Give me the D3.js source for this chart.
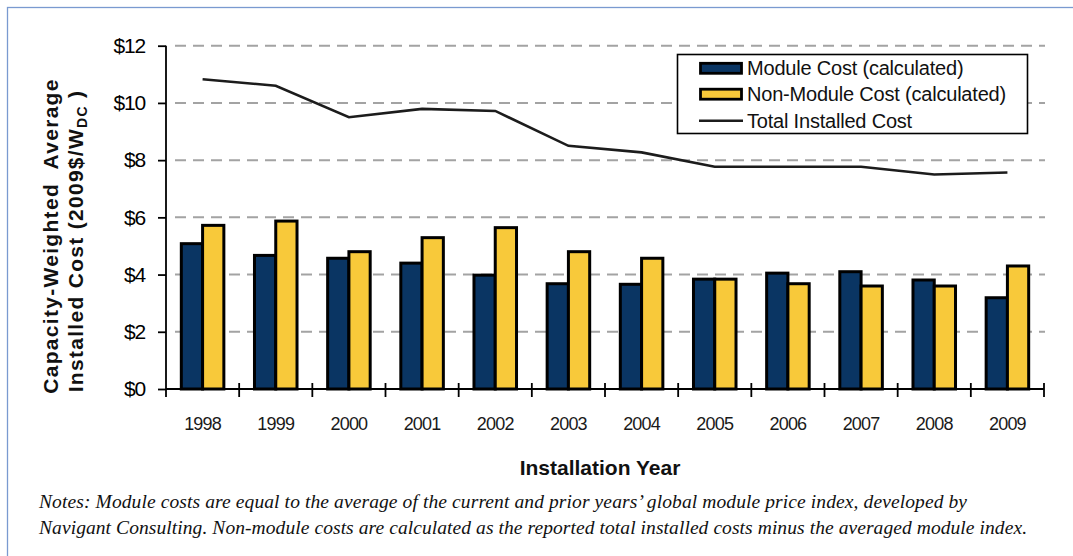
<!DOCTYPE html>
<html>
<head>
<meta charset="utf-8">
<script src="https://cdn.jsdelivr.net/npm/d3@7"></script>
<style>
  body { margin: 0; background: #fff; }
  svg { display: block; }
</style>
</head>
<body>
<svg id="chart" width="1073" height="556"></svg>
<script>
// data
var years = ["1998","1999","2000","2001","2002","2003","2004","2005","2006","2007","2008","2009"];
var moduleCost = [5.08, 4.67, 4.57, 4.4, 3.98, 3.68, 3.66, 3.84, 4.05, 4.1, 3.81, 3.19];
var nonModuleCost = [5.72, 5.87, 4.8, 5.29, 5.64, 4.8, 4.57, 3.84, 3.68, 3.6, 3.6, 4.3];
var totalCost = [10.83, 10.6, 9.5, 9.79, 9.72, 8.5, 8.27, 7.77, 7.77, 7.77, 7.5, 7.57];
var yTicks = [0, 2, 4, 6, 8, 10, 12];
var seriesNames = ["Module Cost (calculated)", "Non-Module Cost (calculated)", "Total Installed Cost"];
var seriesColors = ["#0a3563", "#f8c93a"];

var svg = d3.select("#chart");

var plotLeft = 166, plotRight = 1044, plotTop = 45.7, plotBottom = 389;

// frame
svg.append("rect")
    .attr("x", 7.5).attr("y", 7.5)
    .attr("width", 1100).attr("height", 600)
    .attr("fill", "none")
    .attr("stroke", "#7a9ad0")
    .attr("stroke-width", 1.3);

var x = d3.scaleBand()
    .domain(years)
    .range([plotLeft, plotRight]);

var y = d3.scaleLinear()
    .domain([0, 12])
    .range([plotBottom, plotTop]);

var sub = d3.scaleBand()
    .domain([0, 1])
    .range([0, x.bandwidth()])
    .paddingOuter(0.72)
    .paddingInner(0);

// gridlines
svg.append("g")
    .selectAll("line")
    .data(yTicks.filter(function(d) { return d > 0; }))
    .enter().append("line")
      .attr("x1", plotLeft + 9)
      .attr("x2", plotRight + 1)
      .attr("y1", function(d) { return y(d); })
      .attr("y2", function(d) { return y(d); })
      .attr("stroke", "#a3a3a3")
      .attr("stroke-width", 2)
      .attr("stroke-dasharray", "11,7");

// bars
var groups = svg.append("g")
    .selectAll("g")
    .data(years)
    .enter().append("g")
      .attr("transform", function(d) { return "translate(" + x(d) + ",0)"; });

groups.selectAll("rect")
    .data(function(d, i) { return [moduleCost[i], nonModuleCost[i]]; })
    .enter().append("rect")
      .attr("x", function(d, j) { return sub(j); })
      .attr("width", sub.bandwidth())
      .attr("y", function(d) { return y(d); })
      .attr("height", function(d) { return y(0) - y(d); })
      .attr("fill", function(d, j) { return seriesColors[j]; })
      .attr("stroke", "#000")
      .attr("stroke-width", 3);

// total line
var line = d3.line()
    .x(function(d, i) { return x(years[i]) + x.bandwidth() / 2; })
    .y(function(d) { return y(d); });

svg.append("path")
    .datum(totalCost)
    .attr("d", line)
    .attr("fill", "none")
    .attr("stroke", "#1c1c1c")
    .attr("stroke-width", 2.6);

// y axis
var yAxis = d3.axisLeft(y)
    .tickValues(yTicks)
    .tickSize(8)
    .tickSizeOuter(0)
    .tickPadding(13)
    .tickFormat(function(d) { return "$" + d; });

var gy = svg.append("g")
    .attr("transform", "translate(" + plotLeft + ",0)")
    .call(yAxis);
gy.select(".domain").remove();
gy.selectAll(".tick line").attr("stroke", "#000").attr("stroke-width", 1.8);
gy.selectAll(".tick text")
    .attr("font-family", "Liberation Sans, Arial, sans-serif")
    .attr("font-size", 21)
    .attr("letter-spacing", -1.2)
    .attr("fill", "#000");

svg.append("line")
    .attr("x1", plotLeft).attr("x2", plotLeft)
    .attr("y1", plotTop).attr("y2", plotBottom + 8)
    .attr("stroke", "#000").attr("stroke-width", 1.8);

// x axis: baseline and tick marks on band boundaries
svg.append("line")
    .attr("x1", plotLeft).attr("x2", plotRight)
    .attr("y1", y(0)).attr("y2", y(0))
    .attr("stroke", "#000").attr("stroke-width", 1.8);

var bounds = years.slice(1).map(function(d) { return x(d); }).concat([plotRight]);
svg.append("g")
    .selectAll("line")
    .data(bounds)
    .enter().append("line")
      .attr("x1", function(d) { return d; })
      .attr("x2", function(d) { return d; })
      .attr("y1", y(0) - 6)
      .attr("y2", y(0) + 8)
      .attr("stroke", "#000")
      .attr("stroke-width", 1.8);

svg.append("g")
    .selectAll("text")
    .data(years)
    .enter().append("text")
      .attr("x", function(d) { return x(d) + x.bandwidth() / 2; })
      .attr("y", 430)
      .attr("text-anchor", "middle")
      .attr("font-family", "Liberation Sans, Arial, sans-serif")
      .attr("font-size", 18)
      .attr("letter-spacing", -0.8)
      .attr("fill", "#1a1a1a")
      .text(function(d) { return d; });

// axis titles
svg.append("text")
    .attr("x", 600).attr("y", 475)
    .attr("text-anchor", "middle")
    .attr("font-family", "Liberation Sans, Arial, sans-serif")
    .attr("font-weight", "bold")
    .attr("font-size", 21)
    .attr("fill", "#111")
    .text("Installation Year");

var titleFont = function(sel) {
  sel.attr("text-anchor", "middle")
    .attr("font-family", "Liberation Sans, Arial, sans-serif")
    .attr("font-weight", "bold")
    .attr("font-size", 21)
    .attr("letter-spacing", 1.3)
    .attr("fill", "#111")
    .style("white-space", "pre");
};
svg.append("text")
    .attr("transform", "translate(58,236) rotate(-90)")
    .call(titleFont)
    .text("Capacity-Weighted  Average");

var yt2 = svg.append("text")
    .attr("transform", "translate(83,241) rotate(-90)")
    .call(titleFont);
yt2.append("tspan").text("Installed Cost (2009$/W");
yt2.append("tspan").attr("font-size", 14).attr("dy", 4).text("DC");
yt2.append("tspan").attr("dy", -4).text(" )");

// legend
var lg = svg.append("g");
lg.append("rect")
    .attr("x", 677.5).attr("y", 54.5)
    .attr("width", 350).attr("height", 79)
    .attr("fill", "#fff")
    .attr("stroke", "#000")
    .attr("stroke-width", 1.6);

var rowY = [68.3, 94.2, 120.7];
lg.selectAll("rect.sw")
    .data([0, 1])
    .enter().append("rect")
      .attr("class", "sw")
      .attr("x", 700.5).attr("y", function(d) { return rowY[d] - 5; })
      .attr("width", 41).attr("height", 10)
      .attr("fill", function(d) { return seriesColors[d]; })
      .attr("stroke", "#000")
      .attr("stroke-width", 2.8);
lg.append("line")
    .attr("x1", 699).attr("x2", 743)
    .attr("y1", rowY[2]).attr("y2", rowY[2])
    .attr("stroke", "#1c1c1c").attr("stroke-width", 2.6);

lg.selectAll("text")
    .data(seriesNames)
    .enter().append("text")
      .attr("x", 747)
      .attr("y", function(d, i) { return rowY[i] + 7; })
      .attr("font-family", "Liberation Sans, Arial, sans-serif")
      .attr("font-size", 20)
      .attr("letter-spacing", -0.2)
      .attr("fill", "#111")
      .text(function(d) { return d; });

// notes
var notes = [
  "Notes: Module costs are equal to the average of the current and prior years\u2019 global module price index, developed by",
  "Navigant Consulting. Non-module costs are calculated as the reported total installed costs minus the averaged module index."
];
var noteWidths = [928, 988];
svg.append("g")
    .selectAll("text")
    .data(notes)
    .enter().append("text")
      .attr("x", 39)
      .attr("y", function(d, i) { return 508 + i * 26; })
      .attr("textLength", function(d, i) { return noteWidths[i]; })
      .attr("lengthAdjust", "spacing")
      .attr("font-family", "Liberation Serif, Times New Roman, serif")
      .attr("font-style", "italic")
      .attr("font-size", 19.5)
      .attr("fill", "#111")
      .text(function(d) { return d; });
</script>
</body>
</html>
